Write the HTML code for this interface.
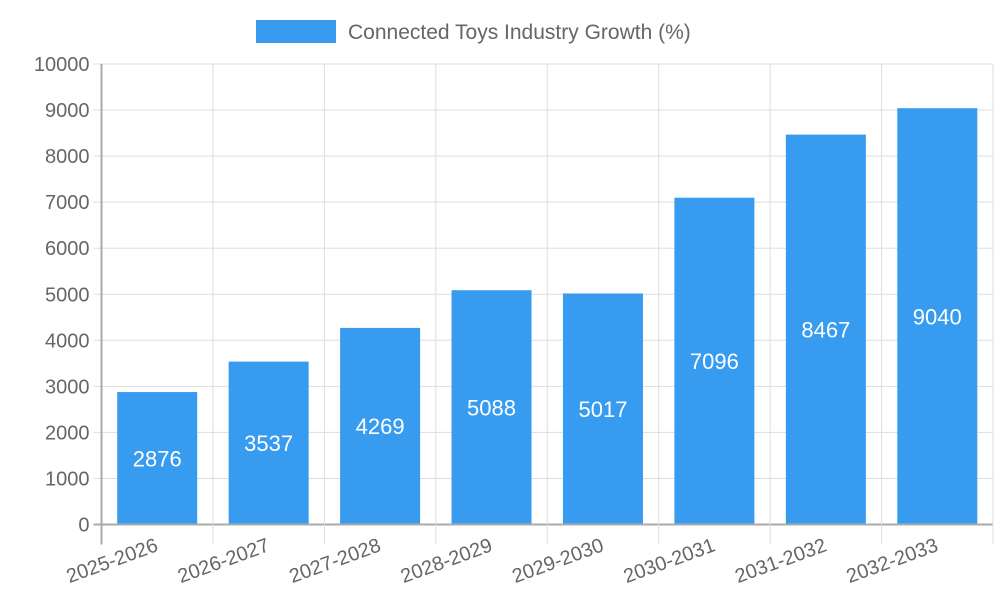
<!DOCTYPE html>
<html><head><meta charset="utf-8"><style>
body{margin:0;background:#fff}
svg text{font-family:"Liberation Sans",sans-serif;fill:#666}
</style></head><body>
<svg id="chart" width="1000" height="600">
<g>
<rect x="256" y="20" width="80" height="23" fill="#379cf0"></rect>
<text x="348" y="39" font-size="21">Connected Toys Industry Growth (%)</text>
</g>
<g id="grid"></g><g id="bars"></g><g id="labels"></g>
</svg>
<script>
const categories=["2025-2026","2026-2027","2027-2028","2028-2029","2029-2030","2030-2031","2031-2032","2032-2033"];
const values=[2876,3537,4269,5088,5017,7096,8467,9040];
const yTicks=[0,1000,2000,3000,4000,5000,6000,7000,8000,9000,10000];
const L=101.5,R=993,T=64,B=524.5,yMax=10000;
const bw=(R-L)/categories.length;
const y=v=>B-(v/yMax)*(B-T);
const x=i=>L+i*bw;
const NS="http://www.w3.org/2000/svg";
function mk(t,a,p){const e=document.createElementNS(NS,t);for(const k in a)e.setAttribute(k,a[k]);p.appendChild(e);return e;}
const g=document.getElementById('grid'),bg=document.getElementById('bars'),lg=document.getElementById('labels');
yTicks.forEach(v=>{
 const l=mk('line',{x1:L-8,x2:R,y1:y(v),y2:y(v),stroke:v===0?'#aaa':'#ddd','stroke-width':v===0?2:1},g);
 
 
 const t=mk('text',{x:L-12,y:y(v)+7,'text-anchor':'end','font-size':20},g);t.textContent=v;
 
 
});
for(let i=0;i<=categories.length;i++){
 const l=mk('line',{x1:x(i),x2:x(i),y1:T,y2:B+20,stroke:i===0?'#aaa':'#ddd','stroke-width':i===0?2:1},g);
 
 
}
categories.forEach((c,i)=>{
 const cx=x(i)+bw/2,w=80;
 const r=mk('rect',{x:cx-w/2,y:y(values[i]),width:w,height:B-1-y(values[i]),fill:'#379cf0'},bg);
 
 
 const t=mk('text',{x:cx,y:(y(values[i])+B)/2+8,'text-anchor':'middle','font-size':22,style:'fill:#fff'},lg);t.textContent=values[i];
 
 
 const xl=mk('text',{x:cx+2,y:B+26,'text-anchor':'end','font-size':20,transform:`rotate(-20 ${cx+2} ${B+26})`},lg);xl.textContent=c;
 
 
});
</script>
</body></html>
